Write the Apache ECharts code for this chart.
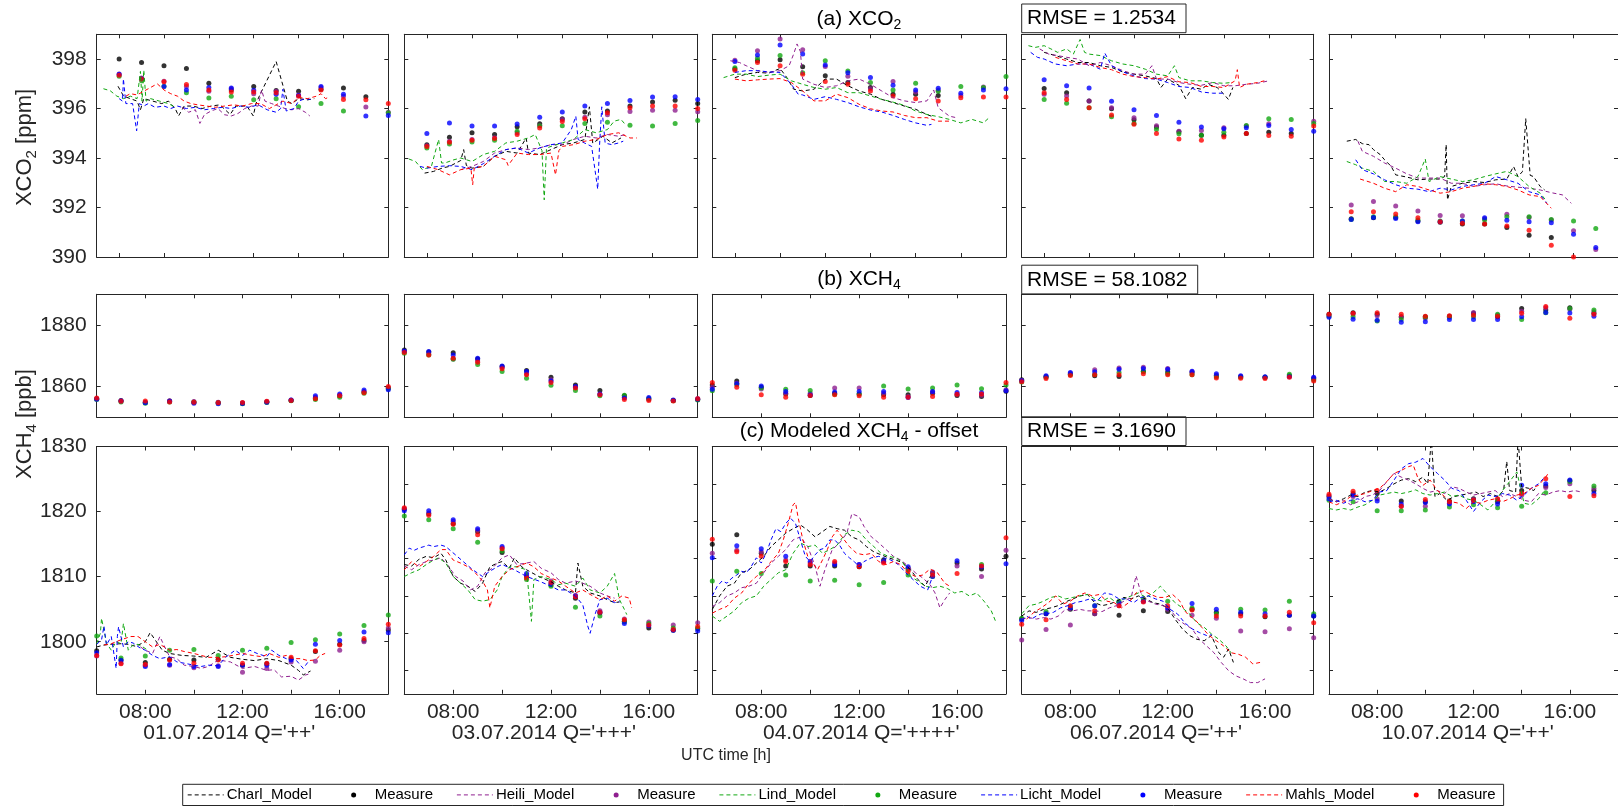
<!DOCTYPE html>
<html><head><meta charset="utf-8">
<script src="https://cdn.jsdelivr.net/npm/echarts@6/dist/echarts.min.js"></script>
<style>html,body{margin:0;padding:0;background:#fff}#c{width:1618px;height:806px}</style>
</head><body><div id="c"></div>
<script>
// ---------- hours of the hourly measurement points ----------
const HOURS=[6,7,8,9,10,11,12,13,14,15,16,17,18];
// ---------- tick labels ----------
const X_LABEL_HOURS=[8,12,16];
const Y_TICKS_A=[390,392,394,396,398];
const Y_TICKS_B=[1860,1880];
const Y_TICKS_C1=[1800,1810,1820,1830];
const Y_TICKS_C=[1800,1805,1810,1815,1820,1825,1830];
const DATE_LABELS=["01.07.2014 Q='++'","03.07.2014 Q='+++'","04.07.2014 Q='++++'","06.07.2014 Q='++'","10.07.2014 Q='++'"];
const RMSE=["1.2534","58.1082","3.1690"];
const LEGEND_NAMES=["Charl_Model","Measure","Heili_Model","Measure","Lind_Model","Measure","Licht_Model","Measure","Mahls_Model","Measure"];

// ================= (a) XCO2 =================
// measurements (K=Charl, P=Heili, G=Lind, B=Licht, R=Mahls) at HOURS
const a1K=[398.0,397.86,397.73,397.62,397.02,396.75,396.89,396.73,396.7,396.78,396.83,396.48,null];
const a1P=[397.4,397.23,397.1,396.89,396.7,396.8,396.6,396.7,396.55,396.85,396.5,396.06,395.85];
const a1G=[397.3,397.12,396.9,396.64,396.43,396.5,396.35,396.4,396.07,396.2,395.9,null,395.83];
const a1B=[397.39,397.2,396.89,396.75,396.85,396.83,396.74,396.58,396.53,396.89,396.58,395.7,395.72];
const a1R=[397.35,397.19,397.08,396.97,396.75,396.67,396.67,396.64,396.5,396.75,396.37,396.35,396.2];
const a1Charl=[[5.95,396.9],[6.2,396.5],[6.5,396.4],[6.8,396.3],[6.95,395.95],[7.1,396.4],[7.5,396.3],[7.9,396.2],[8.2,396.3],[8.5,396.0],[8.65,395.7],[8.9,396.1],[9.3,396.1],[9.7,396.0],[10.1,396.1],[10.5,396.15],[10.95,395.76],[11.2,396.1],[11.7,396.1],[11.98,395.7],[12.1,396.2],[12.3,396.6],[13.0,397.9],[13.5,396.3],[13.7,396.2],[14.0,396.4],[14.4,396.35],[14.7,396.4]];
const a1Heili=[[8.8,396.05],[9.1,395.85],[9.4,395.95],[9.6,395.4],[9.8,395.75],[10.1,395.9],[10.4,396.0],[10.7,395.75],[11.0,395.7],[11.3,395.8],[11.6,396.0],[11.9,396.1],[12.2,396.1],[12.35,396.75],[12.5,396.3],[12.8,396.2],[13.1,396.1],[13.4,396.0],[13.7,395.95],[14.0,396.0],[14.3,395.85],[14.5,395.7]];
const a1Lind=[[5.3,396.8],[5.6,396.72],[5.9,396.5],[6.2,396.4],[6.5,396.5],[6.8,396.4],[6.95,397.5],[7.02,396.3],[7.1,397.55],[7.2,396.3],[7.4,396.4],[7.8,396.3],[8.2,396.2],[8.5,396.05]];
const a1Licht=[[6.0,396.4],[6.15,396.3],[6.19,397.2],[6.3,396.2],[6.6,396.2],[6.78,395.1],[6.9,396.2],[7.1,396.1],[7.3,396.2],[7.6,396.05],[8.0,396.1],[8.3,396.0],[8.6,396.1],[9.0,396.0],[9.4,396.05],[9.8,395.95],[10.2,396.0],[10.6,396.05],[11.0,396.0],[11.4,396.1],[11.8,396.05],[12.2,396.15],[12.6,395.95],[13.0,395.85],[13.2,396.0],[13.3,396.78],[13.45,395.9],[13.8,396.0],[14.0,396.3],[14.3,396.4],[14.65,396.35]];
const a1Mahls=[[6.3,396.5],[6.5,396.6],[6.8,396.55],[7.1,396.7],[7.4,396.85],[7.7,397.0],[8.0,396.75],[8.3,396.6],[8.6,396.5],[8.9,396.3],[9.2,396.2],[9.5,396.15],[9.9,396.1],[10.3,396.05],[10.7,396.1],[11.1,396.15],[11.5,396.1],[11.9,396.2],[12.3,396.2],[12.7,396.0],[13.0,396.15],[13.3,396.3],[13.7,396.2],[14.0,396.45],[14.4,396.4],[14.8,396.5],[15.0,396.6],[15.2,396.4],[15.33,396.45]];

const a2K=[394.54,394.84,395.02,394.95,395.26,395.38,395.59,395.86,395.9,396.1,396.26,396.33,396.2];
const a2P=[394.5,394.68,394.75,394.82,395.02,395.3,395.56,395.65,395.75,395.88,395.93,395.93,395.87];
const a2G=[394.4,394.57,394.65,394.72,395.08,395.3,395.3,395.4,395.45,395.32,395.29,395.4,395.52];
const a2B=[394.99,395.42,395.29,395.29,395.37,395.65,395.86,396.1,396.2,396.32,396.47,396.48,396.37];
const a2R=[394.47,394.64,394.72,394.79,394.95,395.21,395.48,395.59,395.83,396.03,396.1,396.1,396.0];
const a2Charl=[[5.9,393.39],[6.3,393.46],[6.7,393.6],[7.0,393.66],[7.5,393.9],[7.63,394.34],[7.75,393.7],[8.0,393.59],[8.5,393.66],[9.0,394.07],[9.5,394.27],[10.0,394.2],[10.4,394.81],[10.5,394.2],[11.0,394.14],[11.5,394.34],[12.0,394.54],[12.5,394.61],[13.0,394.75],[13.2,396.07],[13.35,394.6],[13.8,394.88],[14.2,394.61],[14.6,394.81]];
const a2Heili=[[7.5,393.53],[8.0,393.66],[8.5,393.86],[9.0,394.2],[9.5,394.34],[10.0,394.41],[10.5,394.34],[11.0,394.41],[11.5,394.54],[12.0,394.54],[12.5,394.75],[13.0,394.88],[13.5,394.81],[14.0,394.95],[14.5,394.88],[14.8,394.95]];
const a2Lind=[[5.2,393.96],[5.5,393.86],[5.8,393.53],[6.2,393.66],[6.52,394.75],[6.65,393.8],[6.8,393.8],[7.2,393.93],[7.5,394.0],[8.0,393.86],[8.5,394.14],[9.0,394.27],[9.5,394.61],[10.0,394.68],[10.5,394.81],[10.8,394.95],[11.1,394.3],[11.2,392.31],[11.3,394.4],[11.5,394.47],[12.0,394.61],[12.5,394.75],[13.0,395.15],[13.5,395.02],[14.0,395.15],[14.3,395.49],[14.6,395.56],[14.75,395.4]];
const a2Licht=[[5.7,393.66],[6.0,393.59],[6.5,393.66],[7.0,393.69],[7.5,393.66],[8.0,393.53],[8.5,393.77],[9.0,394.07],[9.5,394.34],[10.0,394.41],[10.5,394.2],[11.0,394.41],[11.5,394.54],[12.0,394.61],[12.4,395.15],[12.6,395.69],[12.7,394.75],[13.0,394.6],[13.3,394.47],[13.57,392.74],[13.65,394.5],[13.75,396.07],[13.9,394.6],[14.2,394.54],[14.5,394.61],[14.7,394.68]];
const a2Mahls=[[6.0,393.66],[6.5,393.53],[7.0,393.32],[7.5,393.53],[7.95,393.59],[8.03,392.92],[8.1,393.6],[8.5,393.66],[9.0,394.07],[9.5,393.93],[9.6,393.7],[10.0,394.2],[10.5,394.14],[11.0,394.14],[11.5,394.2],[11.7,393.32],[11.85,394.3],[12.0,394.47],[12.5,394.54],[13.0,394.68],[13.5,394.75],[14.0,394.95],[14.5,395.02],[15.0,394.81],[15.3,394.81]];

const a3K=[397.6,397.93,397.97,397.69,397.32,397.05,396.85,396.58,396.58,396.53,null,null,null];
const a3P=[397.95,398.34,398.81,398.38,397.7,397.3,396.8,397.09,396.67,396.74,396.53,396.87,null];
const a3G=[397.65,398.03,398.14,397.45,397.93,397.52,397.05,396.75,397.02,396.7,396.89,396.85,397.29];
const a3B=[397.9,398.16,398.57,398.2,397.76,397.45,397.25,396.94,396.75,396.82,396.62,396.75,396.8];
const a3R=[397.55,397.86,397.73,397.39,397.09,396.98,396.71,396.51,396.4,396.3,396.44,396.47,396.47];
const a3Charl=[[6,397.25],[6.5,397.39],[7,397.46],[7.5,397.43],[8,397.62],[8.3,397.25],[8.6,396.78],[9,396.71],[9.5,396.78],[9.8,397.02],[10,397.19],[10.5,397.19],[11,396.92],[11.5,396.71],[12,396.58],[12.5,396.37],[13,396.24],[13.5,396.1],[14,395.97],[14.5,395.76],[14.7,395.69]];
const a3Heili=[[5.8,397.93],[6.2,397.86],[6.5,397.73],[7,397.53],[7.5,397.46],[8,397.53],[8.4,397.73],[8.6,398.2],[8.75,398.61],[8.9,398.3],[9.0,397.19],[9.5,396.98],[10,396.85],[10.5,396.92],[11,397.12],[11.5,397.19],[12,396.98],[12.5,396.71],[13,396.44],[13.5,396.31],[14,396.24],[14.5,396.31],[14.8,396.75],[15,396.03],[15.5,395.69],[15.8,395.63]];
const a3Lind=[[5.5,397.25],[6,397.39],[6.5,397.39],[7,397.29],[7.5,397.35],[8,397.39],[8.5,397.12],[9,396.98],[9.5,396.85],[10,396.78],[10.5,396.85],[11,396.64],[11.5,396.64],[12,396.51],[12.5,396.37],[13,396.26],[13.5,396.13],[14,395.9],[14.5,395.76],[15,395.67],[15.5,395.56],[16,395.42],[16.5,395.56],[17,395.42],[17.3,395.67]];
const a3Licht=[[6,397.46],[6.5,397.53],[7,397.53],[7.5,397.48],[8,397.46],[8.5,396.98],[8.8,396.58],[9,396.55],[9.5,396.37],[10,396.48],[10.5,396.37],[11,396.24],[11.5,396.07],[12,395.94],[12.5,395.86],[13,395.72],[13.5,395.56],[14,395.42],[14.5,395.32],[14.7,395.36]];
const a3Mahls=[[6,397.19],[6.5,397.12],[7,397.16],[7.5,397.19],[8,397.21],[8.5,397.05],[9,396.71],[9.5,396.31],[10,396.31],[10.5,396.58],[11,396.44],[11.5,396.17],[12,395.99],[12.5,395.9],[13,395.86],[13.5,395.72],[14,395.63],[14.5,395.63],[15,395.49],[15.5,395.49]];

const a4K=[396.81,396.64,396.3,395.99,395.55,395.25,395.06,394.92,394.92,394.99,395.04,394.99,null];
const a4P=[396.58,396.51,396.3,396.03,395.63,395.3,395.08,395.11,395.22,395.29,395.38,null,395.49];
const a4G=[396.37,396.21,396.03,395.67,395.4,395.15,394.98,394.92,395.04,395.31,395.59,395.56,395.4];
const a4B=[397.16,396.92,396.83,396.29,395.95,395.72,395.45,395.25,395.18,395.22,395.31,395.15,395.08];
const a4R=[396.64,396.37,396.03,395.74,395.36,394.99,394.77,394.72,394.85,394.99,394.91,394.88,395.29];
const a4Charl=[[6,398.27],[6.5,398.14],[7,398.0],[7.5,397.86],[8,397.86],[8.5,397.73],[9,397.66],[9.5,397.48],[10,397.39],[10.5,397.32],[11,397.21],[11.2,396.85],[11.5,397.19],[12,396.94],[12.3,396.4],[12.6,396.85],[13,396.78],[13.3,396.98],[13.7,396.85],[14,396.58],[14.2,396.37],[14.4,396.85]];
const a4Heili=[[5.8,398.41],[6.2,398.2],[6.6,398.14],[7,398.07],[7.5,398.0],[8,397.73],[8.5,397.86],[9,397.73],[9.5,397.53],[10,397.39],[10.5,397.39],[10.8,397.73],[11,397.19],[11.5,397.19],[12,397.05],[12.5,396.98],[13,396.94],[13.5,397.05],[14,396.92],[14.5,396.92],[15,396.98],[15.5,397.02],[16,397.12]];
const a4Lind=[[5.3,398.54],[5.6,398.47],[6,398.54],[6.3,398.41],[6.6,398.27],[7,398.41],[7.3,398.2],[7.6,398.79],[7.8,398.27],[8,398.2],[8.5,398.14],[9,397.93],[9.5,397.8],[10,397.73],[10.5,397.59],[11,397.39],[11.5,397.32],[11.8,397.73],[12,397.25],[12.5,397.12],[13,397.12],[13.5,397.05],[14,397.02],[14.3,397.05]];
const a4Licht=[[5.4,398.27],[5.7,398.07],[6,398.0],[6.5,397.8],[7,397.73],[7.5,397.8],[8,397.8],[8.5,397.59],[8.7,398.24],[9,397.73],[9.5,397.48],[10,397.32],[10.5,397.21],[11,397.19],[11.5,397.05],[12,396.89],[12.5,396.85],[13,396.67],[13.5,396.62],[14,396.62]];
const a4Mahls=[[6.5,398.07],[7,397.93],[7.5,397.8],[8,397.8],[8.5,397.66],[9,397.57],[9.5,397.39],[10,397.29],[10.5,397.25],[11,397.19],[11.5,397.29],[12,397.08],[12.5,397.05],[13,396.89],[13.5,396.89],[14,396.85],[14.5,397.12],[14.6,397.57],[14.7,396.85],[15,396.98],[15.5,397.05],[15.8,397.12]];

const a5K=[391.55,391.59,391.6,391.45,391.4,391.33,391.33,391.19,390.88,390.79,null,null,null];
const a5P=[392.1,392.24,392.06,391.86,391.68,391.67,391.55,391.73,391.6,391.5,391.06,390.3,null];
const a5G=[391.52,391.63,391.63,391.5,391.45,391.45,391.5,391.63,391.63,391.52,391.45,391.15,null];
const a5B=[391.52,391.6,391.56,391.42,391.42,391.45,391.59,391.49,391.42,391.38,390.92,390.38,null];
const a5R=[391.83,391.83,391.74,391.59,391.42,391.36,391.33,391.25,391.08,390.47,390.0,null,null];
const a5Charl=[[5.8,394.68],[6.2,394.75],[6.5,394.58],[6.8,394.54],[7,394.34],[7.3,394.14],[7.5,393.93],[7.8,393.66],[8,393.32],[8.5,393.23],[9,393.12],[9.5,393.15],[10,393.15],[10.2,393.25],[10.27,394.54],[10.33,392.31],[10.5,392.85],[11,392.98],[11.5,393.05],[12,393.01],[12.5,393.12],[13,393.15],[13.3,393.66],[13.5,393.25],[13.7,393.45],[13.85,395.59],[14.05,393.3],[14.2,393.25],[14.5,392.85],[14.7,392.71]];
const a5Heili=[[6.3,394.68],[6.5,394.27],[7,394.07],[7.5,393.8],[8,393.59],[8.5,393.36],[9,393.19],[9.5,393.19],[10,393.19],[10.5,392.98],[11,392.98],[11.5,392.85],[12,392.92],[12.5,392.96],[13,392.87],[13.5,392.82],[14,392.78],[14.5,392.71],[15,392.6],[15.5,392.51],[15.9,392.17]];
const a5Lind=[[5.8,393.86],[6.2,393.73],[6.5,393.59],[7,393.46],[7.5,393.05],[8,393.05],[8.5,392.98],[9,393.25],[9.33,393.96],[9.5,393.05],[10,393.25],[10.5,393.15],[11,393.05],[11.5,393.12],[12,393.25],[12.5,393.36],[13,393.46],[13.5,393.25],[14,392.85],[14.5,392.58],[14.8,392.24]];
const a5Licht=[[6.2,393.93],[6.5,393.53],[7,393.36],[7.5,393.12],[8,392.92],[8.5,392.78],[9,392.74],[9.5,392.64],[10,392.78],[10.5,392.71],[11,392.85],[11.5,392.92],[12,392.98],[12.5,393.25],[13,393.12],[13.5,392.98],[14,392.64],[14.5,392.51],[14.8,392.17]];
const a5Mahls=[[6.4,393.15],[7,392.98],[7.5,392.78],[8,392.64],[8.5,392.92],[9,392.85],[9.5,392.71],[10,392.58],[10.5,392.64],[11,392.78],[11.5,392.85],[12,392.96],[12.5,392.92],[13,392.85],[13.5,392.71],[14,392.51],[14.5,392.44],[15,391.97]];

// ================= (b) XCH4 (measurements only) =================
const b1K=[1856.0,1855.5,1854.8,1855.3,1855.0,1854.8,1854.6,1855.0,1855.5,1856.2,1857.0,1858.2,1859.5];
const b1P=[1856.0,1855.4,1854.9,1855.4,1855.1,1854.9,1854.7,1855.1,1855.6,1856.5,1857.2,1858.4,1859.6];
const b1G=[1855.8,1855.0,1854.6,1855.0,1854.8,1854.6,1854.4,1854.8,1855.4,1855.8,1856.5,1857.8,1859.3];
const b1B=[1855.9,1855.3,1854.7,1855.2,1854.6,1854.4,1854.5,1854.9,1855.6,1857.0,1857.6,1858.9,1859.0];
const b1R=[1856.3,1855.2,1855.3,1855.0,1854.9,1854.7,1854.8,1855.2,1855.5,1856.0,1857.0,1858.0,1860.0];
const b2K=[1871.9,1871.2,1871.0,1869.0,1866.5,1865.2,1863.0,1860.5,1858.7,1857.0,1856.0,1855.5,1855.8];
const b2P=[1871.4,1870.6,1869.0,1868.3,1866.2,1864.2,1862.2,1859.8,1857.5,1856.5,1855.8,1855.5,1856.1];
const b2G=[1870.8,1870.3,1868.9,1867.2,1864.9,1862.7,1860.4,1858.7,1857.0,1857.2,1856.0,1855.4,1855.6];
const b2B=[1871.6,1871.4,1870.3,1869.2,1866.7,1864.9,1861.8,1860.0,1857.6,1856.3,1856.4,1855.6,1855.9];
const b2R=[1871.1,1870.3,1869.2,1867.9,1865.8,1863.8,1861.3,1859.5,1857.3,1855.8,1855.5,1855.3,1856.0];
const b3K=[1860.5,1861.8,1859.8,1857.6,1857.1,1857.8,1857.6,1857.3,1857.3,1857.8,1857.1,1856.8,1858.5];
const b3P=[1859.8,1861.1,1859.2,1857.8,1857.8,1859.5,1859.5,1857.8,1856.8,1858.2,1857.5,1857.2,1859.0];
const b3G=[1858.6,1860.6,1859.5,1859.1,1858.7,1857.5,1857.6,1860.2,1859.2,1859.5,1860.5,1859.3,1860.5];
const b3B=[1859.1,1860.9,1860.2,1858.4,1857.3,1858.2,1858.4,1858.4,1856.4,1858.4,1858.1,1858.0,1858.6];
const b3R=[1861.3,1859.8,1857.3,1856.5,1857.1,1857.3,1857.0,1856.5,1856.5,1856.8,1857.5,1857.6,1861.3];
const b4K=[1862.2,1863.2,1864.0,1863.5,1863.3,1865.0,1864.7,1864.5,1863.5,1863.2,1863.0,1863.5,1862.5];
const b4P=[1862.0,1863.2,1864.3,1865.5,1866.0,1866.3,1865.9,1864.8,1863.7,1863.3,1863.0,1863.4,1862.8];
const b4G=[1861.5,1863.0,1863.8,1864.0,1864.6,1864.8,1864.2,1863.8,1863.2,1863.0,1863.0,1864.0,1862.2];
const b4B=[1861.9,1863.5,1864.6,1864.8,1865.6,1865.9,1865.6,1865.0,1864.2,1863.5,1863.2,1863.2,1863.0];
const b4R=[1861.6,1862.6,1863.6,1863.8,1863.8,1864.2,1863.8,1863.8,1862.8,1862.7,1862.6,1863.0,1861.8];
const b5K=[1883.5,1884.0,1883.5,1882.7,1882.7,1882.9,1883.8,1882.7,1885.4,1884.9,1885.6,1883.8,null];
const b5P=[1883.2,1883.6,1883.0,1882.5,1882.2,1882.7,1884.1,1883.2,1884.5,1885.6,1885.1,1884.3,null];
const b5G=[1882.9,1882.7,1881.3,1881.8,1882.5,1882.5,1882.7,1883.5,1881.8,1884.0,1885.4,1884.9,null];
const b5B=[1882.5,1881.9,1881.6,1880.9,1881.1,1881.8,1881.8,1881.8,1882.7,1884.1,1883.9,1882.9,null];
const b5R=[1883.5,1883.8,1884.0,1883.5,1882.9,1883.0,1883.2,1882.9,1883.8,1886.0,1882.2,1883.5,null];

// ================= (c) Modeled XCH4 - offset =================
const c1K=[1798.6,1797.2,1796.8,1797.3,1797.2,1797.3,1796.4,1796.6,1797.4,1798.5,1799.6,1800.2,1801.8];
const c1P=[1797.8,1796.7,1796.4,1796.4,1796.0,1796.3,1795.3,1795.9,1796.9,1797.0,1798.7,1800.0,1802.1];
const c1G=[1800.9,1797.5,1797.8,1798.7,1798.8,1797.9,1798.7,1799.0,1799.9,1800.3,1801.2,1802.5,1804.1];
const c1B=[1798.3,1797.1,1796.2,1796.5,1796.2,1796.2,1796.4,1796.4,1797.2,1799.6,1800.2,1801.5,1801.4];
const c1R=[1797.9,1796.6,1796.5,1797.2,1796.7,1797.2,1796.7,1796.7,1797.6,1798.6,1799.5,1800.5,1802.7];
const c1Charl=[[6.0,1799.2],[6.3,1799.5],[6.6,1799.6],[7.0,1799.7],[7.3,1799.6],[7.6,1799.3],[8.0,1800.0],[8.2,1801.4],[8.4,1800.3],[8.7,1798.7],[9.0,1798.2],[9.5,1797.9],[10.0,1797.8],[10.5,1797.6],[11.0,1798.7],[11.5,1797.6],[12.0,1797.3],[12.5,1797.1],[13.0,1797.4],[13.5,1797.1],[14.0,1796.4],[14.3,1795.6],[14.5,1794.9],[14.8,1795.5]];
const c1Heili=[[7.8,1799.2],[8.0,1798.7],[8.3,1798.2],[8.6,1800.8],[8.8,1799.2],[9.0,1797.7],[9.3,1797.4],[9.6,1796.4],[10.0,1796.2],[10.3,1795.9],[10.6,1796.2],[11.0,1797.2],[11.5,1796.9],[12.0,1795.9],[12.5,1796.2],[13.0,1795.6],[13.3,1795.7],[13.6,1794.6],[14.0,1794.7],[14.3,1794.1],[14.6,1794.9],[14.8,1795.1]];
const c1Lind=[[6.0,1799.7],[6.15,1801.3],[6.2,1803.6],[6.4,1799.8],[6.6,1798.7],[6.8,1800.0],[7.0,1799.7],[7.1,1802.8],[7.3,1798.7],[7.5,1799.5],[7.7,1799.6],[7.9,1799.2],[8.1,1798.7]];
const c1Licht=[[6.0,1799.6],[6.2,1800.3],[6.3,1802.4],[6.4,1799.5],[6.6,1800.8],[6.8,1795.9],[6.85,1800.8],[6.9,1802.3],[7.1,1799.2],[7.3,1800.0],[7.5,1799.8],[7.8,1799.0],[8.0,1798.7],[8.3,1797.9],[8.6,1797.4],[9.0,1797.7],[9.3,1796.9],[9.6,1796.7],[10.0,1796.4],[10.3,1796.2],[10.6,1796.4],[11.0,1796.3],[11.3,1797.6],[11.7,1798.7],[12.0,1797.9],[12.3,1798.7],[12.6,1798.2],[13.0,1797.7],[13.2,1798.7],[13.5,1797.9],[13.8,1797.4],[14.2,1797.2],[14.5,1795.9],[14.7,1796.9]];
const c1Mahls=[[6.3,1799.5],[6.6,1799.7],[7.0,1800.3],[7.4,1800.8],[7.7,1800.8],[8.0,1800.0],[8.3,1799.2],[8.6,1799.6],[9.0,1798.7],[9.3,1798.8],[9.6,1798.5],[10.0,1798.2],[10.3,1797.9],[10.6,1797.6],[11.0,1797.6],[11.3,1797.7],[11.6,1797.9],[12.0,1798.2],[12.4,1797.9],[12.8,1797.7],[13.1,1798.2],[13.5,1797.6],[13.8,1797.9],[14.1,1797.4],[14.4,1797.4],[14.7,1797.1],[15.0,1797.2],[15.2,1797.9],[15.4,1798.2]];

const c2K=[1821.6,1821.0,1819.7,1818.6,1815.8,1812.6,1811.5,1809.7,1807.7,1806.6,1805.7,1805.4,1805.6];
const c2P=[1821.7,1821.1,1820.0,1818.8,1816.4,1812.8,1812.0,1810.1,1808.0,1806.9,1806.5,1806.1,1806.4];
const c2G=[1820.7,1820.2,1819.0,1817.2,1816.0,1812.2,1811.3,1808.5,1807.3,1806.5,1806.3,1805.7,1805.7];
const c2B=[1821.4,1821.4,1820.2,1819.0,1816.6,1813.0,1811.7,1810.0,1807.8,1806.3,1806.0,1805.4,1805.3];
const c2R=[1821.8,1820.8,1819.6,1818.2,1816.3,1812.4,1811.8,1809.9,1807.8,1806.8,1806.1,1805.5,1805.9];
const c2Charl=[[6.0,1814.2],[6.3,1814.0],[6.6,1814.9],[6.9,1815.3],[7.2,1815.1],[7.5,1815.7],[7.7,1814.8],[8.0,1812.6],[8.3,1811.7],[8.6,1811.3],[8.9,1810.6],[9.2,1811.7],[9.5,1813.9],[9.8,1814.4],[10.0,1814.6],[10.3,1813.7],[10.5,1815.1],[10.8,1813.9],[11.0,1813.5],[11.5,1812.6],[12.0,1811.9],[12.3,1811.3],[12.6,1810.8],[13.0,1810.4],[13.1,1814.4],[13.3,1811.3],[13.6,1810.4],[14.0,1810.0],[14.3,1809.5],[14.6,1809.1],[14.8,1809.2]];
const c2Heili=[[6.0,1814.0],[6.3,1813.5],[6.6,1814.2],[6.9,1814.6],[7.2,1814.8],[7.5,1815.1],[7.8,1814.0],[8.1,1812.6],[8.4,1812.0],[8.7,1810.8],[9.0,1811.3],[9.3,1813.1],[9.6,1813.7],[10.0,1815.1],[10.3,1815.5],[10.6,1814.2],[11.0,1814.4],[11.3,1814.6],[11.6,1813.7],[12.0,1813.1],[12.3,1812.2],[12.6,1811.7],[13.0,1812.0],[13.3,1811.7],[13.6,1811.3],[14.0,1810.4],[14.3,1810.0],[14.6,1809.7]];
const c2Lind=[[6.0,1812.6],[6.3,1813.1],[6.6,1813.5],[6.9,1814.2],[7.1,1814.6],[7.4,1815.1],[7.7,1814.4],[8.0,1812.6],[8.3,1811.7],[8.6,1810.8],[8.9,1809.5],[9.2,1809.3],[9.5,1809.5],[9.8,1810.8],[10.0,1812.6],[10.3,1813.9],[10.6,1813.9],[11.0,1813.5],[11.2,1806.6],[11.3,1812.2],[11.6,1812.6],[12.0,1812.2],[12.3,1811.5],[12.6,1811.7],[13.0,1811.3],[13.3,1812.4],[13.6,1810.8],[14.0,1810.4],[14.3,1811.3],[14.6,1813.0],[14.8,1809.5],[15.0,1808.2],[15.1,1807.5]];
const c2Licht=[[6.0,1815.5],[6.2,1816.4],[6.4,1816.1],[6.6,1816.4],[6.8,1816.6],[7.0,1816.8],[7.2,1816.6],[7.5,1816.8],[7.7,1816.6],[8.8,1813.5],[9.2,1812.6],[9.5,1813.3],[9.8,1813.9],[10.0,1814.2],[10.5,1813.5],[11.0,1812.6],[11.5,1812.0],[12.0,1811.3],[12.3,1810.8],[12.6,1810.8],[13.0,1810.0],[13.3,1808.8],[13.5,1806.0],[13.6,1805.0],[13.8,1807.5],[14.0,1809.5],[14.3,1809.7],[14.6,1809.1],[14.8,1809.2]];
const c2Mahls=[[6.0,1813.5],[6.3,1814.6],[6.6,1813.9],[6.9,1814.6],[7.2,1815.3],[7.5,1816.2],[7.7,1816.2],[8.0,1814.8],[8.3,1814.4],[8.6,1813.9],[8.9,1813.1],[9.2,1812.0],[9.4,1810.8],[9.5,1808.4],[9.7,1811.3],[10.0,1812.6],[10.3,1813.5],[10.6,1813.9],[11.0,1814.4],[11.3,1813.9],[11.6,1813.0],[12.0,1812.4],[12.3,1812.0],[12.6,1811.3],[13.0,1810.4],[13.3,1810.8],[13.6,1810.2],[14.0,1809.5],[14.3,1810.0],[14.6,1809.3],[14.9,1810.0],[15.2,1809.7],[15.3,1808.4]];

const c3K=[1816.9,1818.2,1815.7,1814.0,1814.0,1814.0,1813.9,1814.8,1813.7,1813.1,1814.4,1813.6,1815.3];
const c3P=[1815.7,1816.1,1815.9,1814.8,1814.4,1814.4,1814.2,1814.6,1813.5,1813.2,1814.0,1812.6,1816.1];
const c3G=[1812.0,1813.3,1813.0,1812.8,1812.0,1812.1,1811.5,1811.8,1812.8,1812.6,null,1814.2,null];
const c3B=[1815.1,1816.7,1816.3,1815.3,1814.6,1814.2,1814.2,1814.6,1813.9,1812.6,1814.7,1813.9,1814.3];
const c3R=[1817.6,1815.9,1815.3,1814.6,1814.2,1814.6,1813.9,1814.4,1813.3,1812.8,1813.0,1814.0,1817.8];
const c3Charl=[[6.0,1808.2],[6.3,1810.0],[6.6,1811.3],[6.9,1811.7],[7.2,1813.1],[7.5,1813.5],[7.8,1814.4],[8.1,1815.3],[8.4,1816.6],[8.7,1817.5],[9.0,1818.4],[9.3,1819.0],[9.6,1819.5],[9.9,1818.8],[10.2,1817.9],[10.5,1818.6],[10.8,1819.3],[11.1,1819.0],[11.4,1818.8],[11.7,1817.9],[12.0,1817.5],[12.3,1816.6],[12.6,1815.9],[12.9,1815.5],[13.2,1815.1],[13.5,1814.8],[13.8,1814.4],[14.1,1813.5],[14.4,1812.2],[14.7,1811.3],[14.9,1812.6]];
const c3Heili=[[6.0,1808.6],[6.3,1809.1],[6.6,1810.0],[6.9,1810.4],[7.2,1811.1],[7.5,1811.3],[7.8,1811.7],[8.1,1813.1],[8.4,1814.4],[8.7,1815.3],[9.0,1816.2],[9.3,1817.5],[9.6,1817.9],[9.9,1816.6],[10.2,1814.0],[10.4,1811.3],[10.6,1813.5],[10.9,1816.2],[11.2,1817.1],[11.5,1818.4],[11.7,1821.0],[12.0,1820.6],[12.2,1819.3],[12.5,1817.9],[12.8,1817.1],[13.1,1816.2],[13.4,1815.3],[13.7,1814.8],[14.0,1814.0],[14.3,1813.1],[14.6,1812.4],[14.9,1811.5],[15.1,1810.4],[15.3,1808.4],[15.5,1809.5],[15.7,1810.4]];
const c3Lind=[[6.0,1807.3],[6.3,1806.6],[6.6,1807.3],[6.9,1808.0],[7.2,1809.1],[7.5,1809.7],[7.8,1810.0],[8.1,1811.3],[8.4,1812.2],[8.7,1813.1],[9.0,1813.5],[9.3,1815.7],[9.6,1817.1],[9.9,1816.6],[10.2,1816.8],[10.5,1815.7],[10.8,1816.2],[11.1,1816.8],[11.4,1818.2],[11.7,1818.8],[12.0,1818.6],[12.3,1817.5],[12.6,1816.6],[12.9,1815.7],[13.2,1815.3],[13.5,1815.1],[13.8,1814.4],[14.1,1812.6],[14.4,1812.0],[14.7,1811.3],[15.0,1811.1],[15.3,1811.3],[15.6,1811.0],[15.9,1810.4],[16.2,1810.6],[16.5,1810.0],[16.8,1810.4],[17.1,1809.3],[17.4,1808.0],[17.6,1806.4]];
const c3Licht=[[6.0,1810.0],[6.2,1811.3],[6.4,1812.0],[6.6,1811.7],[6.8,1812.4],[7.0,1812.8],[7.2,1813.3],[7.4,1813.1],[7.6,1814.0],[7.8,1815.1],[8.0,1814.4],[8.2,1815.7],[8.4,1817.5],[8.6,1819.0],[8.8,1818.6],[9.0,1819.7],[9.2,1820.4],[9.4,1819.7],[9.6,1817.5],[9.8,1815.3],[10.0,1814.6],[10.2,1815.5],[10.4,1816.2],[10.6,1816.4],[10.8,1817.5],[11.0,1817.5],[11.2,1816.8],[11.4,1815.7],[11.6,1815.1],[11.8,1814.6],[12.0,1813.9],[12.2,1814.6],[12.5,1815.1],[12.8,1815.3],[13.0,1815.1],[13.3,1814.8],[13.6,1814.2],[13.9,1813.1],[14.2,1812.2],[14.5,1811.3],[14.8,1810.8],[15.0,1812.6]];
const c3Mahls=[[6.0,1807.7],[6.3,1808.2],[6.6,1808.6],[6.9,1809.7],[7.2,1810.4],[7.5,1811.7],[7.8,1812.6],[8.1,1813.3],[8.4,1814.6],[8.7,1815.7],[8.9,1817.5],[9.1,1819.7],[9.3,1822.2],[9.4,1822.5],[9.5,1820.6],[9.7,1817.5],[9.9,1815.3],[10.1,1814.4],[10.3,1813.5],[10.5,1814.8],[10.7,1816.2],[10.9,1817.9],[11.1,1818.8],[11.3,1817.9],[11.6,1816.6],[11.9,1815.7],[12.2,1815.5],[12.5,1815.7],[12.8,1814.6],[13.1,1814.2],[13.4,1814.6],[13.7,1814.2],[14.0,1813.1],[14.3,1812.6],[14.6,1812.8],[14.9,1813.6],[15.2,1813.1],[15.5,1811.7],[15.7,1811.3]];

const c4K=[1806.9,1807.6,1808.2,1807.6,1807.4,1808.0,1807.9,1808.2,1807.8,1807.6,1807.2,1807.4,1807.3];
const c4P=[1804.1,1805.5,1806.1,1807.6,1808.7,1809.3,1808.2,1807.4,1807.0,1805.3,1805.2,1805.6,1804.4];
const c4G=[1807.0,1807.9,1808.6,1808.7,1809.3,1809.6,1809.3,1808.4,1807.6,1808.2,1808.1,1809.3,1807.6];
const c4B=[1806.7,1807.6,1808.4,1808.7,1809.1,1809.3,1808.4,1809.0,1808.2,1807.8,1807.6,1807.4,1807.3];
const c4R=[1806.2,1806.8,1808.7,1808.0,1808.7,1809.2,1808.7,1808.1,1807.3,1807.3,1807.3,1807.8,1806.4];
const c4Charl=[[6.0,1807.3],[6.3,1808.0],[6.6,1807.8],[6.9,1808.2],[7.2,1808.4],[7.5,1808.7],[7.8,1809.2],[8.1,1809.6],[8.4,1810.0],[8.7,1810.2],[9.0,1809.1],[9.3,1808.7],[9.6,1808.9],[9.9,1809.3],[10.2,1809.8],[10.5,1809.6],[10.8,1810.0],[11.1,1809.6],[11.4,1809.1],[11.7,1808.9],[12.0,1808.4],[12.3,1806.9],[12.6,1805.6],[12.9,1804.7],[13.2,1804.2],[13.5,1804.0],[13.8,1804.7],[14.1,1802.4],[14.3,1801.8],[14.5,1802.9],[14.7,1801.1]];
const c4Heili=[[6.0,1806.9],[6.3,1807.1],[6.6,1806.9],[6.9,1807.1],[7.2,1806.9],[7.5,1807.3],[7.8,1808.2],[8.1,1808.0],[8.4,1808.2],[8.7,1808.0],[9.0,1808.0],[9.3,1807.9],[9.6,1808.4],[9.9,1808.7],[10.2,1809.3],[10.5,1809.8],[10.7,1812.7],[10.9,1810.4],[11.2,1809.3],[11.5,1808.9],[11.8,1808.7],[12.1,1808.2],[12.4,1806.9],[12.7,1806.2],[13.0,1805.6],[13.3,1804.2],[13.6,1803.3],[13.9,1802.4],[14.2,1801.1],[14.5,1800.0],[14.8,1799.3],[15.1,1798.9],[15.4,1798.4],[15.7,1798.4],[16.0,1798.9]];
const c4Lind=[[6.0,1807.6],[6.3,1808.7],[6.6,1808.9],[6.9,1809.3],[7.2,1809.8],[7.5,1810.0],[7.8,1809.6],[8.1,1809.8],[8.4,1810.0],[8.7,1810.2],[9.0,1809.6],[9.3,1809.3],[9.6,1809.8],[9.9,1809.1],[10.2,1809.6],[10.5,1810.0],[10.8,1810.4],[11.1,1809.8],[11.4,1810.4],[11.7,1811.3],[12.0,1810.2],[12.3,1809.1],[12.6,1808.4],[12.9,1807.6],[13.2,1806.4],[13.5,1805.8],[13.8,1804.9],[14.1,1804.2],[14.4,1803.3],[14.6,1802.4]];
const c4Licht=[[6.0,1806.7],[6.2,1807.3],[6.4,1806.9],[6.6,1807.3],[6.8,1807.6],[7.0,1807.6],[7.3,1807.8],[7.6,1808.4],[7.9,1808.7],[8.2,1809.1],[8.5,1809.3],[8.8,1809.6],[9.1,1809.3],[9.4,1810.4],[9.7,1810.2],[10.0,1809.6],[10.3,1809.6],[10.6,1809.1],[10.9,1809.8],[11.2,1810.0],[11.5,1809.6],[11.8,1809.3],[12.1,1808.2],[12.4,1807.6],[12.7,1806.4],[13.0,1805.6],[13.3,1805.1],[13.6,1804.7],[13.8,1804.8]];
const c4Mahls=[[6.2,1806.9],[6.5,1807.8],[6.8,1808.4],[7.1,1809.1],[7.4,1810.0],[7.7,1808.9],[8.0,1809.3],[8.3,1810.0],[8.6,1810.4],[8.9,1810.0],[9.2,1810.2],[9.5,1809.3],[9.8,1809.1],[10.1,1808.4],[10.4,1809.1],[10.7,1810.4],[11.0,1810.7],[11.3,1810.2],[11.6,1809.8],[11.9,1809.8],[12.2,1810.2],[12.5,1809.3],[12.7,1808.0],[12.9,1807.3],[13.1,1806.9],[13.4,1805.8],[13.7,1804.7],[14.0,1804.0],[14.3,1803.3],[14.6,1802.4],[14.9,1802.2],[15.2,1801.8],[15.5,1800.9],[15.8,1801.1]];

const c5K=[1823.3,1823.7,1823.7,1822.7,1822.6,1822.7,1823.0,1822.6,1824.1,1824.7,1825.4,1824.1,null];
const c5P=[1823.4,1823.3,1823.0,1822.0,1822.0,1822.4,1822.9,1822.9,1823.5,1824.5,1825.0,1824.4,null];
const c5G=[1822.8,1822.6,1821.4,1821.4,1821.5,1821.9,1822.2,1821.8,1822.0,1823.8,1825.3,1824.7,null];
const c5B=[1823.0,1823.5,1822.7,1822.3,1822.5,1822.3,1822.6,1822.3,1824.8,1825.0,1825.5,1823.7,null];
const c5R=[1823.6,1824.0,1824.1,1822.0,1822.9,1822.6,1822.8,1823.0,1823.7,1825.7,1823.3,1823.4,null];
const c5Charl=[[6.0,1823.0],[6.3,1822.6],[6.6,1823.0],[6.9,1823.5],[7.2,1823.3],[7.5,1823.9],[7.8,1824.1],[8.1,1823.9],[8.4,1824.4],[8.7,1825.0],[9.0,1825.5],[9.3,1825.7],[9.6,1825.3],[9.9,1825.9],[10.1,1825.0],[10.25,1831.0],[10.4,1823.3],[10.6,1823.7],[10.9,1822.8],[11.2,1823.3],[11.5,1823.5],[11.8,1823.7],[12.1,1823.9],[12.4,1823.3],[12.7,1823.7],[13.0,1823.3],[13.25,1824.1],[13.38,1828.0],[13.5,1824.1],[13.75,1823.9],[13.85,1831.0],[14.0,1824.6],[14.3,1824.4],[14.5,1824.1],[14.6,1824.6]];
const c5Heili=[[6.0,1823.0],[6.3,1822.6],[6.6,1822.8],[6.9,1822.2],[7.2,1822.6],[7.5,1823.3],[7.8,1823.5],[8.1,1824.1],[8.4,1825.3],[8.7,1826.4],[9.0,1825.9],[9.3,1825.5],[9.6,1825.0],[9.9,1824.4],[10.2,1823.9],[10.5,1824.1],[10.8,1823.7],[11.1,1824.6],[11.4,1824.4],[11.7,1823.9],[12.0,1823.5],[12.3,1823.7],[12.6,1823.9],[12.9,1824.1],[13.2,1823.3],[13.5,1823.7],[13.8,1823.3],[14.1,1822.8],[14.4,1822.6],[14.7,1823.7],[15.0,1823.5],[15.3,1823.9],[15.6,1824.1],[15.9,1823.9],[16.2,1824.1],[16.5,1823.9]];
const c5Lind=[[6.0,1821.7],[6.3,1821.5],[6.6,1821.7],[6.9,1821.5],[7.2,1821.9],[7.5,1822.2],[7.8,1822.8],[8.1,1823.5],[8.4,1823.7],[8.7,1823.9],[9.0,1823.7],[9.3,1823.9],[9.6,1824.2],[9.9,1823.7],[10.2,1823.5],[10.5,1823.7],[10.8,1823.9],[11.1,1823.3],[11.4,1823.5],[11.7,1823.0],[12.0,1822.8],[12.3,1822.2],[12.6,1821.5],[12.9,1822.6],[13.2,1824.1],[13.5,1825.3],[13.8,1826.6],[14.1,1822.4],[14.4,1822.2],[14.7,1823.0],[14.9,1823.9]];
const c5Licht=[[6.0,1822.6],[6.3,1822.8],[6.6,1822.4],[6.9,1822.8],[7.2,1823.0],[7.5,1822.6],[7.8,1822.8],[8.1,1823.9],[8.4,1824.1],[8.7,1825.5],[9.0,1827.0],[9.3,1827.7],[9.6,1827.9],[9.9,1828.4],[10.2,1827.3],[10.5,1826.4],[10.8,1825.5],[11.1,1824.4],[11.4,1824.1],[11.7,1822.8],[12.0,1821.3],[12.3,1822.6],[12.6,1823.5],[12.9,1823.3],[13.2,1823.7],[13.5,1823.5],[13.8,1822.8],[14.1,1823.5],[14.4,1824.4],[14.7,1825.0],[14.9,1825.7]];
const c5Mahls=[[6.0,1822.6],[6.3,1822.2],[6.6,1822.6],[6.9,1823.3],[7.2,1823.5],[7.5,1823.7],[7.8,1824.1],[8.1,1824.4],[8.4,1825.3],[8.7,1826.4],[9.0,1826.8],[9.3,1827.3],[9.5,1827.5],[9.7,1825.7],[9.9,1824.8],[10.2,1825.5],[10.5,1824.1],[10.8,1823.3],[11.1,1822.6],[11.4,1822.4],[11.7,1821.7],[12.0,1822.6],[12.3,1822.4],[12.6,1822.8],[12.9,1823.0],[13.2,1822.6],[13.5,1823.0],[13.8,1823.5],[14.1,1823.7],[14.4,1824.4],[14.7,1824.8],[15.0,1825.9],[15.1,1826.4]];

// ---------- styling / layout (not data) ----------
const COLORS=['#000000','#8F1F8F','#12A812','#0000FF','#FF0000'];
const FONT="'Liberation Sans', Arial, Helvetica, sans-serif";
const TXT='#262626';
const COL_L=[96.7,404.3,712.3,1021.7,1329];
const COL_W=[291.6,293.4,293.7,292,292];
const ROW_T=[34.3,294.3,446.5];
const ROW_H=[222.7,123,247.3];
const X_RANGE=[[5,18],[6,18],[6,18]];
const X_TICKS=[[6,8,10,12,14,16],[8,10,12,14,16],[8,10,12,14,16]];

const PANELS=[
 [[a1Charl,a1K,a1Heili,a1P,a1Lind,a1G,a1Licht,a1B,a1Mahls,a1R],
  [a2Charl,a2K,a2Heili,a2P,a2Lind,a2G,a2Licht,a2B,a2Mahls,a2R],
  [a3Charl,a3K,a3Heili,a3P,a3Lind,a3G,a3Licht,a3B,a3Mahls,a3R],
  [a4Charl,a4K,a4Heili,a4P,a4Lind,a4G,a4Licht,a4B,a4Mahls,a4R],
  [a5Charl,a5K,a5Heili,a5P,a5Lind,a5G,a5Licht,a5B,a5Mahls,a5R]],
 [[null,b1K,null,b1P,null,b1G,null,b1B,null,b1R],
  [null,b2K,null,b2P,null,b2G,null,b2B,null,b2R],
  [null,b3K,null,b3P,null,b3G,null,b3B,null,b3R],
  [null,b4K,null,b4P,null,b4G,null,b4B,null,b4R],
  [null,b5K,null,b5P,null,b5G,null,b5B,null,b5R]],
 [[c1Charl,c1K,c1Heili,c1P,c1Lind,c1G,c1Licht,c1B,c1Mahls,c1R],
  [c2Charl,c2K,c2Heili,c2P,c2Lind,c2G,c2Licht,c2B,c2Mahls,c2R],
  [c3Charl,c3K,c3Heili,c3P,c3Lind,c3G,c3Licht,c3B,c3Mahls,c3R],
  [c4Charl,c4K,c4Heili,c4P,c4Lind,c4G,c4Licht,c4B,c4Mahls,c4R],
  [c5Charl,c5K,c5Heili,c5P,c5Lind,c5G,c5Licht,c5B,c5Mahls,c5R]]
];

function yCfg(r,c){
  if(r===0) return {min:390,max:399,ticks:Y_TICKS_A};
  if(r===1) return {min:1850,max:1890,ticks:Y_TICKS_B};
  if(c===0) return {min:1792,max:1830,ticks:Y_TICKS_C1};
  return {min:1796.9,max:1830,ticks:Y_TICKS_C};
}
const grids=[],xAxes=[],yAxes=[],series=[];
const lineAx={show:true,onZero:false,lineStyle:{color:TXT,width:1}};
for(let r=0;r<3;r++){
  for(let c=0;c<5;c++){
    const gi=r*5+c;
    grids.push({left:COL_L[c],top:ROW_T[r],width:COL_W[c],height:ROW_H[r],containLabel:false});
    const [xmin,xmax]=X_RANGE[r];
    const xl={show:r===2,color:TXT,fontSize:21,fontFamily:FONT,margin:8,
      formatter:v=>(v<10?'0':'')+v+':00'};
    if(r===2) xl.customValues=X_LABEL_HOURS;
    xAxes.push({type:'value',gridIndex:gi,position:'bottom',min:xmin,max:xmax,axisLine:lineAx,
      axisTick:{show:true,inside:true,length:4,customValues:X_TICKS[r],lineStyle:{color:TXT}},
      axisLabel:xl,splitLine:{show:false}});
    xAxes.push({type:'value',gridIndex:gi,position:'top',min:xmin,max:xmax,axisLine:lineAx,
      axisTick:{show:true,inside:true,length:4,customValues:X_TICKS[r],lineStyle:{color:TXT}},
      axisLabel:{show:false},splitLine:{show:false}});
    const y=yCfg(r,c);
    const yl={show:c===0,color:TXT,fontSize:21,fontFamily:FONT,margin:10,formatter:v=>String(v)};
    if(c===0) yl.customValues=y.ticks;
    yAxes.push({type:'value',gridIndex:gi,position:'left',min:y.min,max:y.max,axisLine:lineAx,
      axisTick:{show:true,inside:true,length:4,customValues:y.ticks,lineStyle:{color:TXT}},
      axisLabel:yl,splitLine:{show:false}});
    yAxes.push({type:'value',gridIndex:gi,position:'right',min:y.min,max:y.max,axisLine:lineAx,
      axisTick:{show:true,inside:true,length:4,customValues:y.ticks,lineStyle:{color:TXT}},
      axisLabel:{show:false},splitLine:{show:false}});
    const d=PANELS[r][c];
    for(let k=0;k<5;k++){
      const ln=d[2*k], dots=d[2*k+1];
      if(ln) series.push({type:'line',xAxisIndex:2*gi,yAxisIndex:2*gi,data:ln,showSymbol:false,symbol:'none',
        clip:true,silent:true,lineStyle:{color:COLORS[k],width:1,type:[4,3]}});
      series.push({type:'scatter',xAxisIndex:2*gi,yAxisIndex:2*gi,silent:true,symbol:'circle',symbolSize:5,
        itemStyle:{color:COLORS[k]},
        data:HOURS.map((h,j)=>dots[j]==null?null:[h,dots[j]]).filter(v=>v)});
    }
  }
}

// ---------- texts ----------
const RICH={n:{fontSize:21,fontFamily:FONT,fill:'#000'},s:{fontSize:14,fontFamily:FONT,fill:'#000',padding:[13,0,0,0]}};
const RICHY={n:{fontSize:22,fontFamily:FONT,fill:TXT},s:{fontSize:15,fontFamily:FONT,fill:TXT,padding:[13,0,0,0]}};
const g=[];
function T(x,y,text,o){o=o||{};g.push({type:'text',x:x,y:y,rotation:o.rot||0,silent:true,
  style:{text:text,fill:o.fill||'#000',fontSize:o.size||21,fontFamily:FONT,align:o.align||'center',verticalAlign:'middle',rich:o.rich}});}
T(859,19,'{n|(a) XCO}{s|2}',{rich:RICH});
T(859,279,'{n|(b) XCH}{s|4}',{rich:RICH});
T(859,431,'{n|(c) Modeled XCH}{s|4}{n| - offset}',{rich:RICH});
const RM=[[4,164.3],[265.2,176],[416.8,164.3]];
RMSE.forEach((v,i)=>{
  g.push({type:'rect',silent:true,shape:{x:1021.7,y:RM[i][0],width:RM[i][1],height:28.7},style:{fill:'#fff',stroke:'#262626',lineWidth:1}});
  T(1027,RM[i][0]+14.6,'RMSE = '+v,{align:'left'});
});
T(25,147.5,'{n|XCO}{s|2}{n| [ppm]}',{rot:Math.PI/2,rich:RICHY});
T(25,424,'{n|XCH}{s|4}{n| [ppb]}',{rot:Math.PI/2,rich:RICHY});
const DATE_X=[143.3,451.7,763,1070,1381.7];
DATE_LABELS.forEach((t,i)=>T(DATE_X[i],733,t,{align:'left',fill:TXT}));
T(726,755.5,'UTC time [h]',{size:16,fill:TXT});

// ---------- legend (drawn, names repeat) ----------
const LF=15;
const cv=document.createElement('canvas').getContext('2d');
cv.font=LF+'px Liberation Sans';
const LX0=182.7,LX1=1503.6,LY0=784.3,LY1=805.5,LCY=(LY0+LY1)/2,ICON=36;
g.push({type:'rect',silent:true,shape:{x:LX0,y:LY0,width:LX1-LX0,height:LY1-LY0},style:{fill:'#fff',stroke:'#262626',lineWidth:1}});
const widths=LEGEND_NAMES.map(t=>cv.measureText(t).width);
const sumW=widths.reduce((a,b)=>a+b,0)+LEGEND_NAMES.length*(ICON+3);
const startX=LX0+5, endX=LX1-8;
const gap=(endX-startX-sumW)/(LEGEND_NAMES.length-1);
let lx=startX;
LEGEND_NAMES.forEach((t,i)=>{
  const col=COLORS[Math.floor(i/2)];
  if(i%2===0){
    g.push({type:'line',silent:true,shape:{x1:lx,y1:LCY,x2:lx+ICON,y2:LCY},style:{stroke:col,lineWidth:1,lineDash:[4,3]}});
  } else {
    g.push({type:'circle',silent:true,shape:{cx:lx+ICON/2,cy:LCY,r:2.5},style:{fill:col}});
  }
  T(lx+ICON+3,LCY,t,{align:'left',size:LF});
  lx+=ICON+3+widths[i]+gap;
});

const chart=echarts.init(document.getElementById('c'),null,{renderer:'canvas',width:1618,height:806});
chart.setOption({animation:false,backgroundColor:'#fff',grid:grids,xAxis:xAxes,yAxis:yAxes,series:series,graphic:{elements:g}});
</script></body></html>
